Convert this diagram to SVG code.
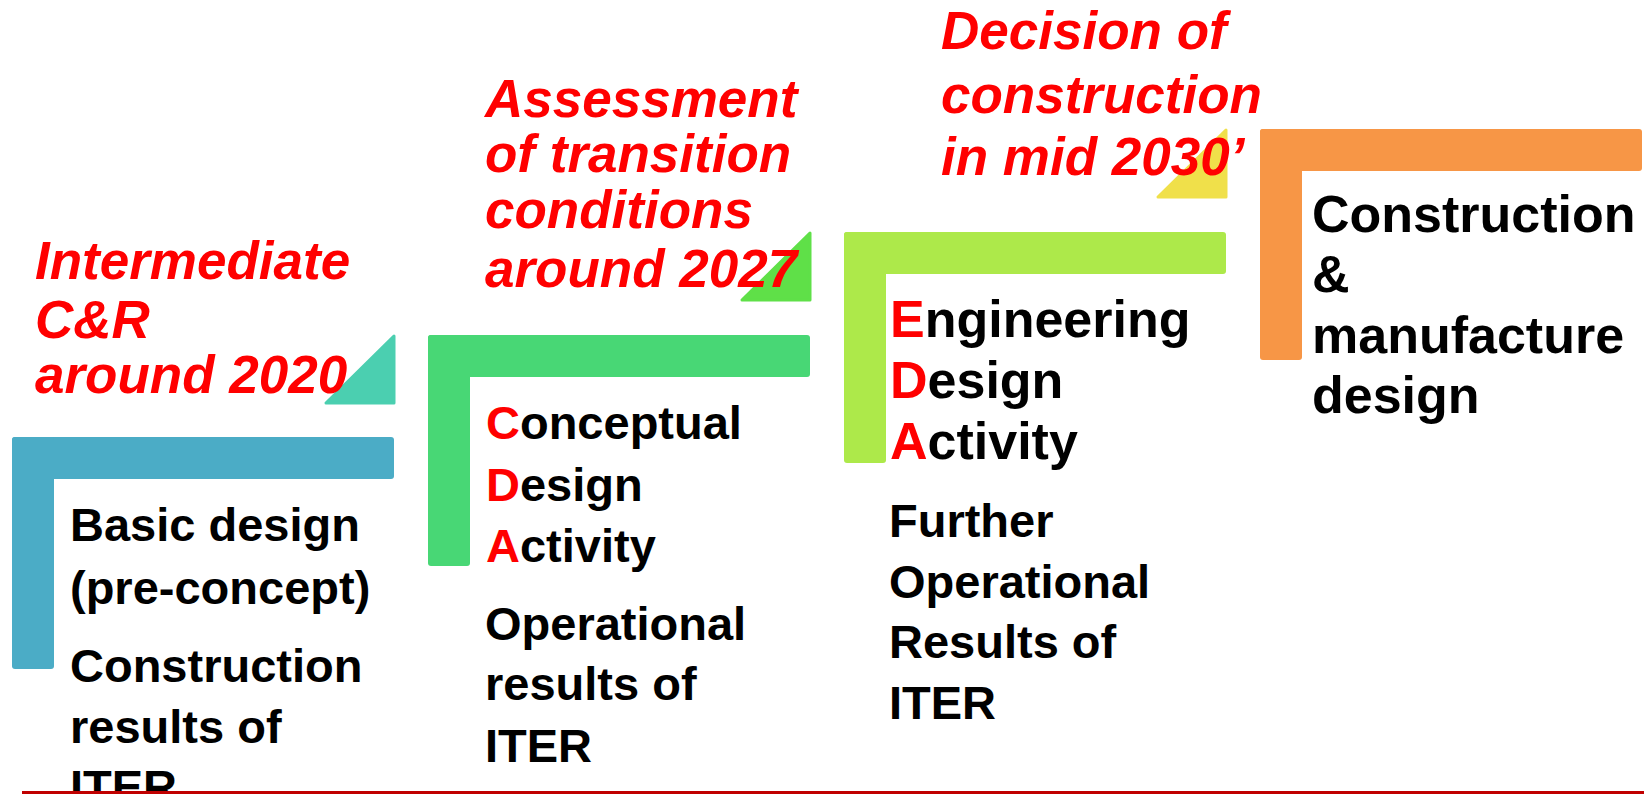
<svg xmlns="http://www.w3.org/2000/svg" width="1644" height="794" viewBox="0 0 1644 794">
<style>
  text { font-family: "Liberation Sans", Arial, sans-serif; font-weight: bold; }
  .lbl { fill: #FF0000; font-style: italic; font-size: 53px; }
  .blk { fill: #000000; font-size: 47px; }
  .big { fill: #000000; font-size: 52px; }
  .r { fill: #FF0000; }
  .tri { stroke-linejoin: round; stroke-width: 3; }
</style>
<rect width="1644" height="794" fill="#FFFFFF"/>

<g id="step1">
  <rect x="12" y="437" width="382" height="42" rx="3" fill="#4BACC6"/>
  <rect x="12" y="437" width="42" height="232" rx="3" fill="#4BACC6"/>
  <text class="blk" x="70"><tspan x="70" y="541">Basic design</tspan><tspan x="70" y="604">(pre-concept)</tspan><tspan x="70" y="682">Construction</tspan><tspan x="70" y="743">results of</tspan><tspan x="70" y="803">ITER</tspan></text>
</g>

<g id="milestone1">
  <polygon class="tri" points="394,336 394,403 326,403" fill="#4BCFB0" stroke="#4BCFB0"/>
  <text class="lbl"><tspan x="35" y="279">Intermediate</tspan><tspan x="35" y="338">C&amp;R</tspan><tspan x="35" y="393">around 2020</tspan></text>
</g>

<g id="step2">
  <rect x="428" y="335" width="382" height="42" rx="3" fill="#48D775"/>
  <rect x="428" y="335" width="42" height="231" rx="3" fill="#48D775"/>
  <text class="blk"><tspan x="486" y="439"><tspan class="r">C</tspan>onceptual</tspan><tspan x="486" y="501"><tspan class="r">D</tspan>esign</tspan><tspan x="486" y="562"><tspan class="r">A</tspan>ctivity</tspan></text>
  <text class="blk"><tspan x="485" y="640">Operational</tspan><tspan x="485" y="700">results of</tspan><tspan x="485" y="762">ITER</tspan></text>
</g>

<g id="milestone2">
  <polygon class="tri" points="810,233 810,300 742,300" fill="#5FE048" stroke="#5FE048"/>
  <text class="lbl"><tspan x="485" y="117">Assessment</tspan><tspan x="485" y="172">of transition</tspan><tspan x="485" y="228">conditions</tspan><tspan x="485" y="287">around 2027</tspan></text>
</g>

<g id="step3">
  <rect x="844" y="232" width="382" height="42" rx="3" fill="#ADE94A"/>
  <rect x="844" y="232" width="42" height="231" rx="3" fill="#ADE94A"/>
  <text class="big"><tspan x="890" y="337"><tspan class="r">E</tspan>ngineering</tspan><tspan x="890" y="398"><tspan class="r">D</tspan>esign</tspan><tspan x="890" y="459"><tspan class="r">A</tspan>ctivity</tspan></text>
  <text class="blk"><tspan x="889" y="537">Further</tspan><tspan x="889" y="598">Operational</tspan><tspan x="889" y="658">Results of</tspan><tspan x="889" y="719">ITER</tspan></text>
</g>

<g id="milestone3">
  <polygon class="tri" points="1226,130 1226,197 1158,197" fill="#F0E04A" stroke="#F0E04A"/>
  <text class="lbl"><tspan x="941" y="49">Decision of</tspan><tspan x="941" y="113">construction</tspan><tspan x="941" y="175">in mid 2030’</tspan></text>
</g>

<g id="step4">
  <rect x="1260" y="129" width="382" height="42" rx="3" fill="#F79646"/>
  <rect x="1260" y="129" width="42" height="231" rx="3" fill="#F79646"/>
  <text class="big"><tspan x="1312" y="232">Construction</tspan><tspan x="1312" y="292">&amp;</tspan><tspan x="1312" y="353">manufacture</tspan><tspan x="1312" y="413">design</tspan></text>
</g>

<g id="connectors"></g>

<rect id="baseline" x="22" y="791" width="1622" height="3" fill="#C00000"/>
</svg>
